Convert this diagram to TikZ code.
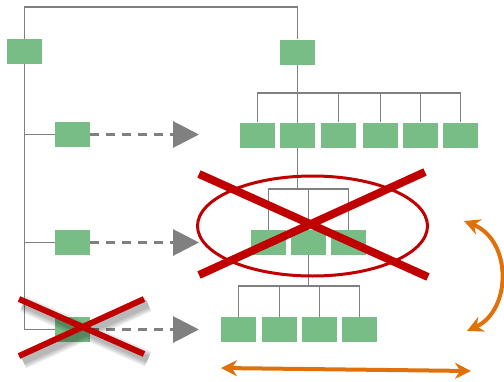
\documentclass[tikz,border=0pt]{standalone}
\usepackage{xcolor}
\usepackage{tikz}
\usetikzlibrary{arrows.meta}
\usetikzlibrary{calc}
\usetikzlibrary{backgrounds}
\definecolor{boxgreen}{RGB}{119,189,133}
\definecolor{crossred}{RGB}{192,0,0}
\definecolor{swaporange}{RGB}{224,112,10}
\definecolor{linegray}{RGB}{128,128,128}
\tikzset{
  box/.style={fill=boxgreen,minimum width=35pt,minimum height=25pt,inner sep=0pt},
  wire/.style={linegray,line width=1.5pt},
  goarrow/.style={linegray,line width=3pt,dash pattern=on 9pt off 7pt,-{Triangle[length=26pt,width=26pt]}},
  cross/.style={crossred,line width=8pt},
  swap/.style={swaporange,line width=4pt,{Stealth[length=16pt,width=16pt]}-{Stealth[length=16pt,width=16pt]}}
}
\begin{document}
\begin{tikzpicture}[x=1pt,y=-1pt]
\useasboundingbox (0,0) rectangle (504,381);
%% left column
\node[box] (top) at (24.5,51.5) {};
\foreach \y/\name in {134.5/la, 242.5/lb, 329.5/lc}
    \node[box] (\name) at (72.5,\y) {};
%% right tree
\node[box] (root) at (297.5,52) {};
\foreach \x/\i in {257.5/1, 297.5/2, 338.5/3, 380.5/4, 420.5/5, 460.5/6}
    \node[box] (a\i) at (\x,135) {};
\foreach \x/\i in {268.5/1, 308.5/2, 348.5/3}
    \node[box] (b\i) at (\x,242.5) {};
\foreach \x/\i in {238.5/1, 279.5/2, 319.5/3, 359.5/4}
    \node[box] (c\i) at (\x,329.5) {};
\coordinate (busa) at (297.5,93);
\coordinate (busb) at (297.5,189);
\coordinate (busc) at (308.5,286);
%% connectors
\begin{scope}[on background layer]
\draw[wire] (top.north) |- (root.north |- 0,7) -- (root.north);
\draw[wire] (top.south) |- (lc.west);
\draw[wire] (top.south |- la.west) -- (la.west);
\draw[wire] (top.south |- lb.west) -- (lb.west);
\draw[wire] (root.south) -- (busb);
\foreach \i in {1,...,6}
    \draw[wire] (busa) -| (a\i.north);
\foreach \i in {1,...,3}
    \draw[wire] (busb) -| (b\i.north);
\draw[wire] (b2.south) -- (busc);
\foreach \i in {1,...,4}
    \draw[wire] (busc) -| (c\i.north);
\end{scope}
%% dashed arrows
\foreach \name in {la, lb, lc}
    \draw[goarrow] (\name.east) -- (\name.east -| 199,0);
%% crossed out level
\draw[crossred,line width=3pt] (312.5,226) ellipse [x radius=115, y radius=50];
\draw[cross] (199,174) -- (428,277);
\draw[cross] (425,172) -- (199,275);
%% crossed out box, soft shadow
\foreach \w in {16,13,10,7}
    \draw[black,opacity=0.08,line width=\w pt] (23,304) -- (148,359) (148,304) -- (23,361);
\draw[crossred,line width=6pt] (19,299) -- (144,354);
\draw[crossred,line width=6pt] (144,299) -- (19,356);
%% orange arrows
\coordinate (swapt) at (464,221);
\coordinate (swapb) at (467,331);
\draw[swap] (swapt) .. controls (512,240) and (512,310) .. (swapb);
\coordinate (widl) at (221,368);
\coordinate (widr) at (471,371);
\draw[swap] (widl) -- (widr);
\end{tikzpicture}
\end{document}
